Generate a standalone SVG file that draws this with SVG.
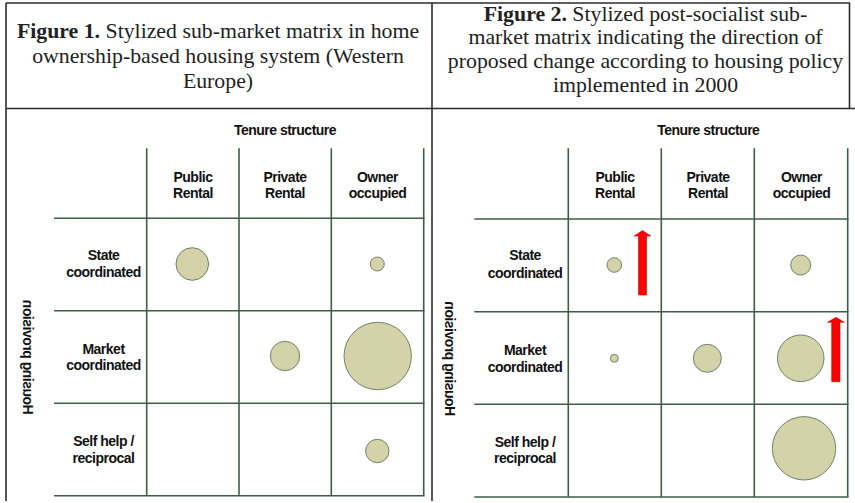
<svg xmlns="http://www.w3.org/2000/svg" width="855" height="503" viewBox="0 0 855 503">
<style>
.tb{stroke:#2b2b2b;stroke-width:1.6;fill:none}
.grid{stroke:#3d5f45;stroke-width:1.6;fill:none}
.bub{fill:#d3d2a8;stroke:#6f8466;stroke-width:1}
.lab{font-family:"Liberation Sans",Arial,sans-serif;font-weight:bold;font-size:14px;letter-spacing:-0.5px;fill:#111;text-anchor:middle}
.ttl{font-family:"Liberation Serif","Times New Roman",serif;font-size:21.8px;fill:#222;text-anchor:middle}
.ttl tspan.b{font-weight:bold}
.arr{fill:#ff0000;stroke:#d40000;stroke-width:0.6}
</style>
<rect width="855" height="503" fill="#fff"/>
<g id="table">
<line class="tb" x1="6" y1="3" x2="850" y2="3"/>
<line class="tb" x1="6" y1="3" x2="6" y2="501"/>
<line class="tb" x1="432" y1="3" x2="432" y2="501"/>
<line class="tb" x1="849.5" y1="3" x2="849.5" y2="108.5"/>
<line class="tb" x1="6" y1="108.5" x2="855" y2="108.5"/>
</g>
<g id="title1">
<text class="ttl" x="218" y="38"><tspan class="b">Figure 1.</tspan> Stylized sub-market matrix in home</text>
<text class="ttl" x="218" y="63">ownership-based housing system (Western</text>
<text class="ttl" x="218" y="88">Europe)</text>
</g>
<g id="title2">
<text class="ttl" x="645.5" y="20.5"><tspan class="b">Figure 2.</tspan> Stylized post-socialist sub-</text>
<text class="ttl" x="645.5" y="44.3">market matrix indicating the direction of</text>
<text class="ttl" x="645.5" y="68.2">proposed change according to housing policy</text>
<text class="ttl" x="645.5" y="92">implemented in 2000</text>
</g>
<g id="fig1">
<g id="fig1-grid">
<line class="grid" x1="54" y1="218.3" x2="424.5" y2="218.3"/>
<line class="grid" x1="54" y1="310.8" x2="424.5" y2="310.8"/>
<line class="grid" x1="54" y1="403.3" x2="424.5" y2="403.3"/>
<line class="grid" x1="54" y1="495.8" x2="424.5" y2="495.8"/>
<line class="grid" x1="146.7" y1="148.3" x2="146.7" y2="495.8"/>
<line class="grid" x1="239" y1="148.3" x2="239" y2="495.8"/>
<line class="grid" x1="331.3" y1="148.3" x2="331.3" y2="495.8"/>
<line class="grid" x1="423.7" y1="148.3" x2="423.7" y2="495.8"/>
</g>
<g id="fig1-labels">
<text class="lab" x="285" y="135">Tenure structure</text>
<text class="lab" x="193" y="182">Public</text><text class="lab" x="193" y="198">Rental</text>
<text class="lab" x="285" y="182">Private</text><text class="lab" x="285" y="198">Rental</text>
<text class="lab" x="377.5" y="182">Owner</text><text class="lab" x="377.5" y="198">occupied</text>
<text class="lab" x="103.5" y="260">State</text><text class="lab" x="103.5" y="277">coordinated</text>
<text class="lab" x="103.5" y="353.5">Market</text><text class="lab" x="103.5" y="370">coordinated</text>
<text class="lab" x="103.5" y="446">Self help /</text><text class="lab" x="103.5" y="462.5">reciprocal</text>
<text class="lab" transform="translate(28,357.5) rotate(90) scale(-1,1)" dy="0.36em">Housing provision</text>
</g>
<g id="fig1-bubbles">
<circle id="f1-state-public" class="bub" cx="192.3" cy="264" r="16.3"/>
<circle id="f1-state-owner" class="bub" cx="377.3" cy="264" r="7"/>
<circle id="f1-market-private" class="bub" cx="285" cy="356" r="14.7"/>
<circle id="f1-market-owner" class="bub" cx="377.7" cy="356" r="33.7"/>
<circle id="f1-self-owner" class="bub" cx="377.3" cy="451" r="11.7"/>
</g>
</g>
<g id="fig2">
<g id="fig2-grid">
<line class="grid" x1="474.3" y1="219" x2="848.5" y2="219"/>
<line class="grid" x1="474.3" y1="311.7" x2="848.5" y2="311.7"/>
<line class="grid" x1="474.3" y1="404.3" x2="848.5" y2="404.3"/>
<line class="grid" x1="474.3" y1="497" x2="848.5" y2="497"/>
<line class="grid" x1="568.3" y1="148.3" x2="568.3" y2="497"/>
<line class="grid" x1="661.3" y1="148.3" x2="661.3" y2="497"/>
<line class="grid" x1="754.3" y1="148.3" x2="754.3" y2="497"/>
<line class="grid" x1="847.7" y1="148.3" x2="847.7" y2="497"/>
</g>
<g id="fig2-labels">
<text class="lab" x="708.3" y="135">Tenure structure</text>
<text class="lab" x="615" y="182">Public</text><text class="lab" x="615" y="198">Rental</text>
<text class="lab" x="708" y="182">Private</text><text class="lab" x="708" y="198">Rental</text>
<text class="lab" x="801.5" y="182">Owner</text><text class="lab" x="801.5" y="198">occupied</text>
<text class="lab" x="525" y="260">State</text><text class="lab" x="525" y="278">coordinated</text>
<text class="lab" x="525" y="355">Market</text><text class="lab" x="525" y="371.7">coordinated</text>
<text class="lab" x="525" y="446.7">Self help /</text><text class="lab" x="525" y="463.3">reciprocal</text>
<text class="lab" transform="translate(450,359) rotate(90) scale(-1,1)" dy="0.36em">Housing provision</text>
</g>
<g id="fig2-bubbles">
<circle id="f2-state-public" class="bub" cx="614.3" cy="265" r="7.3"/>
<circle id="f2-state-owner" class="bub" cx="800.7" cy="265" r="10"/>
<circle id="f2-market-public" class="bub" cx="614.3" cy="358.3" r="4"/>
<circle id="f2-market-private" class="bub" cx="707.3" cy="358.3" r="14"/>
<circle id="f2-market-owner" class="bub" cx="800.7" cy="358.3" r="23.3"/>
<circle id="f2-self-owner" class="bub" cx="804" cy="448.3" r="31.7"/>
</g>
<g id="arrows">
<polygon class="arr" points="638.5,295 646.5,295 646.5,236 650.8,236 642.5,230.5 634.2,236 638.5,236"/>
<polygon class="arr" points="831.7,381.7 840,381.7 840,322.3 844.3,322.3 835.9,317.3 827.5,322.3 831.7,322.3"/>
</g>
</g>
</svg>
